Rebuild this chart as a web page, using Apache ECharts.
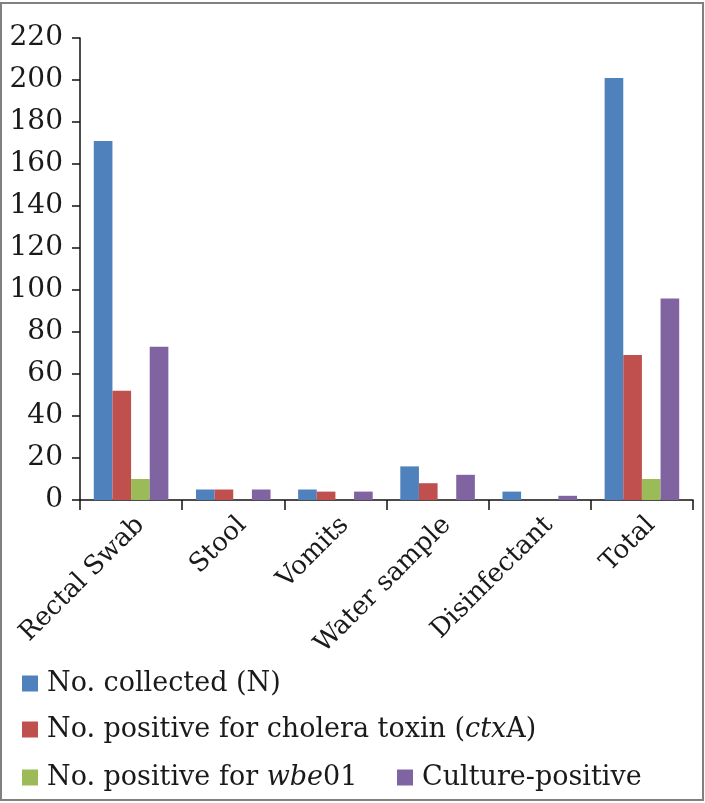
<!DOCTYPE html>
<html>
<head>
<meta charset="utf-8">
<script src="https://cdn.jsdelivr.net/npm/echarts@6/dist/echarts.min.js"></script>
<style>
html,body{margin:0;padding:0;background:#fff;}
#chart{width:705px;height:803px;}
</style>
</head>
<body>
<div id="chart"></div>
<script>
const categories = ["Rectal Swab", "Stool", "Vomits", "Water sample", "Disinfectant", "Total"];
const collected = [171, 5, 5, 16, 4, 201];
const ctxA = [52, 5, 4, 8, 0, 69];
const wbe01 = [10, 0, 0, 0, 0, 10];
const culture = [73, 5, 4, 12, 2, 96];
const seriesNames = ["No. collected (N)", "No. positive for cholera toxin (ctxA)", "No. positive for wbe01", "Culture-positive"];
const colors = ["#4F81BD", "#C0504D", "#9BBB59", "#8064A2"];

const FONT = "DejaVu Serif";
const chart = echarts.init(document.getElementById('chart'));

function legendFormatter(name) {
  if (name === seriesNames[1]) return "No. positive for cholera toxin ({i|ctx}A)";
  if (name === seriesNames[2]) return "No. positive for {i|wbe}01";
  return name;
}
const legendText = {
  fontFamily: FONT, fontSize: 27, color: "#1a1a1a", padding: [0, 0, 0, 4],
  rich: { i: { fontFamily: FONT, fontSize: 27, fontStyle: "italic", color: "#1a1a1a" } }
};
function mkLegend(name, left, top) {
  return {
    data: [name], left: left, top: top, orient: "horizontal",
    icon: "rect", itemWidth: 16, itemHeight: 16, itemGap: 0,
    textStyle: legendText, formatter: legendFormatter, selectedMode: false, padding: 0
  };
}

const data = [collected, ctxA, wbe01, culture];
chart.setOption({
  animation: false,
  backgroundColor: "#fff",
  color: colors,
  graphic: [{
    type: "rect", shape: { x: 1, y: 3, width: 702, height: 797 },
    style: { fill: null, stroke: "#808080", lineWidth: 2 }, silent: true
  }],
  grid: { left: 80, right: 12, top: 38, bottom: 303, containLabel: false },
  legend: [
    mkLegend(seriesNames[0], 22, 670),
    mkLegend(seriesNames[1], 22, 716),
    mkLegend(seriesNames[2], 22, 764),
    mkLegend(seriesNames[3], 397, 764)
  ],
  xAxis: {
    type: "category", data: categories,
    axisLine: { lineStyle: { color: "#111", width: 1.5 } },
    axisTick: { show: true, length: 10, lineStyle: { color: "#111", width: 1.5 } },
    axisLabel: { rotate: 45, margin: 12, interval: 0, verticalAlign: "top", fontFamily: FONT, fontSize: 26, color: "#1a1a1a" }
  },
  yAxis: {
    type: "value", min: 0, max: 220, interval: 20,
    axisLine: { show: true, lineStyle: { color: "#111", width: 1.5 } },
    axisTick: { show: true, length: 8, lineStyle: { color: "#111", width: 1.5 } },
    splitLine: { show: false },
    axisLabel: { margin: 17, fontFamily: FONT, fontSize: 28, color: "#1a1a1a" }
  },
  series: seriesNames.map((n, i) => ({
    name: n, type: "bar", data: data[i],
    barGap: "0%", barCategoryGap: "27%",
    itemStyle: { color: colors[i] }
  }))
});
</script>
</body>
</html>
